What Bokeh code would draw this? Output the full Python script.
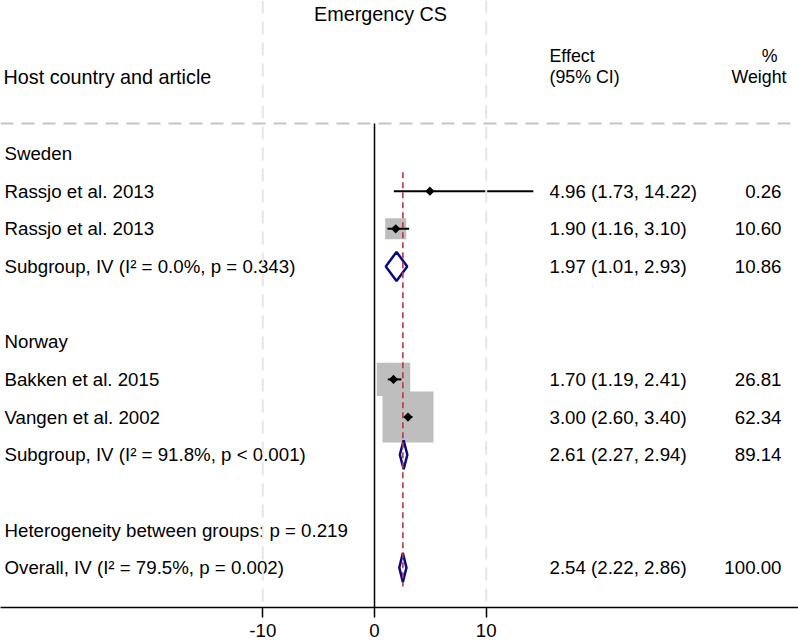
import numpy as np
from bokeh.plotting import figure
from bokeh.models import Range1d, FixedTicker, Span, ColumnDataSource, LinearAxis
from bokeh.core.properties import value
from bokeh.embed import file_html
from bokeh.resources import INLINE

# ---------------- data ----------------
title_text = "Emergency CS"
header_label = "Host country and article"
header_effect = ["Effect", "(95% CI)"]
header_weight = ["%", "Weight"]

row_labels = ["Sweden", "Rassjo et al. 2013", "Rassjo et al. 2013",
              "Subgroup, IV (I\u00b2 = 0.0%, p = 0.343)",
              "Norway", "Bakken et al. 2015", "Vangen et al. 2002",
              "Subgroup, IV (I\u00b2 = 91.8%, p < 0.001)",
              "Heterogeneity between groups: p = 0.219",
              "Overall, IV (I\u00b2 = 79.5%, p = 0.002)"]
row_label_rows = [0, 1, 2, 3, 5, 6, 7, 8, 10, 11]

study_est = [4.96, 1.90, 1.70, 3.00]
study_lo = [1.73, 1.16, 1.19, 2.60]
study_hi = [14.22, 3.10, 2.41, 3.40]
study_wt = [0.26, 10.60, 26.81, 62.34]
study_rows = [1, 2, 6, 7]

pooled_est = [1.97, 2.61, 2.54]
pooled_lo = [1.01, 2.27, 2.22]
pooled_hi = [2.93, 2.94, 2.86]
pooled_wt = [10.86, 89.14, 100.00]
pooled_rows = [3, 8, 11]

x_ticks = [-10, 0, 10]
x_tick_labels = ["-10", "0", "10"]

# ---------------- layout helpers ----------------
W, H = 798, 641
X0_PX, PX_PER_UNIT = 374.0, 11.17
ROW0_PX, ROW_PX = 153.0, 37.65
BOTTOM_BORDER = 34
FRAME_H = H - BOTTOM_BORDER
FONT = "Liberation Sans"
FS = "18.7px"


def xd(px):
    return (px - X0_PX) / PX_PER_UNIT


def yd(px):
    return (px - ROW0_PX) / ROW_PX


y_bottom = yd(FRAME_H)

p = figure(width=W, height=H, output_backend="svg", toolbar_location=None,
           x_range=Range1d(xd(0), xd(W)), y_range=Range1d(y_bottom, yd(0)),
           x_axis_location=None, y_axis_location=None,
           min_border_left=0, min_border_right=0, min_border_top=0,
           min_border_bottom=BOTTOM_BORDER)
p.outline_line_color = None
p.xgrid.visible = False
p.ygrid.visible = False
p.background_fill_color = "white"
p.border_fill_color = "white"

# gray vertical reference lines
for t in [-10, 10]:
    p.add_layout(Span(location=t, dimension="height", line_color="#e6e6e6",
                      line_width=2, line_dash="13 8"))
# header separator
p.add_layout(Span(location=yd(123), dimension="width", line_color="#c4c4c4",
                  line_width=2, line_dash="13 8"))

# null line
p.segment(x0=[0], y0=[yd(123)], x1=[0], y1=[y_bottom], line_color="black", line_width=1.5)

# study boxes
est = np.array(study_est)
wt = np.array(study_wt)
src = ColumnDataSource(dict(est=est, lo=study_lo, hi=study_hi, row=study_rows,
                            size=np.sqrt(wt / wt.max()) * 51))
p.scatter(x="est", y="row", size="size", marker="square", source=src,
          fill_color="#bebebe", line_color=None)
p.segment(x0="lo", y0="row", x1="hi", y1="row", source=src, line_color="black", line_width=2)
p.scatter(x="est", y="row", size=6.5, marker="square", angle=np.pi / 4, source=src,
          fill_color="black", line_color=None)

# pooled diamonds
h = 14.5 / ROW_PX
xs = [[lo, e, hi, e] for lo, e, hi in zip(pooled_lo, pooled_est, pooled_hi)]
ys = [[r, r - h, r, r + h] for r in pooled_rows]
p.patches(xs, ys, fill_color="white", line_color="#0a0a80", line_width=2.5)

# overall effect line
p.segment(x0=[pooled_est[-1]], y0=[pooled_rows[0] - 2.5], x1=[pooled_est[-1]],
          y1=[pooled_rows[-1] + 0.5], line_color="#b03a4a", line_width=1.6, line_dash="6 4")

# texts
tf = value(FONT)
p.text(x=[xd(380)], y=[yd(13)], text=[title_text], text_font=tf, text_font_size="19.8px",
       text_align="center", text_baseline="middle", text_color="black")
p.text(x=[xd(3)], y=[yd(76)], text=[header_label], text_font=tf, text_font_size="19.8px",
       text_align="left", text_baseline="middle", text_color="black")
p.text(x=[xd(549)] * 2, y=[yd(55), yd(76)], text=header_effect, text_font=tf,
       text_font_size="17.8px", text_align="left", text_baseline="middle", text_color="black")
p.text(x=[xd(777), xd(786)], y=[yd(55), yd(76)], text=header_weight, text_font=tf,
       text_font_size="17.8px", text_align="right", text_baseline="middle", text_color="black")

p.text(x=[xd(4)] * len(row_labels), y=row_label_rows, text=row_labels, text_font=tf,
       text_font_size=FS, text_align="left", text_baseline="middle", text_color="black")

all_est = study_est + pooled_est
all_lo = study_lo + pooled_lo
all_hi = study_hi + pooled_hi
all_wt = study_wt + pooled_wt
all_rows = study_rows + pooled_rows
eff_text = [f"{e:.2f} ({lo:.2f}, {hi:.2f})" for e, lo, hi in zip(all_est, all_lo, all_hi)]
wt_text = [f"{w:.2f}" for w in all_wt]
p.text(x=[xd(549)] * len(eff_text), y=all_rows, text=eff_text, text_font=tf,
       text_font_size=FS, text_align="left", text_baseline="middle", text_color="black")
p.text(x=[xd(781)] * len(wt_text), y=all_rows, text=wt_text, text_font=tf,
       text_font_size=FS, text_align="right", text_baseline="middle", text_color="black")

# x axis
ax = LinearAxis(ticker=FixedTicker(ticks=x_ticks))
ax.major_label_overrides = {t: s for t, s in zip(x_ticks, x_tick_labels)}
ax.axis_line_color = "black"
ax.axis_line_width = 1.5
ax.major_tick_line_color = "black"
ax.major_tick_line_width = 1.5
ax.major_tick_out = 10
ax.major_tick_in = 0
ax.minor_tick_line_color = None
ax.major_label_standoff = 6
ax.major_label_text_font = FONT
ax.major_label_text_font_size = FS
ax.major_label_text_color = "black"
p.add_layout(ax, "below")

open("out.html", "w").write(file_html(p, INLINE))
